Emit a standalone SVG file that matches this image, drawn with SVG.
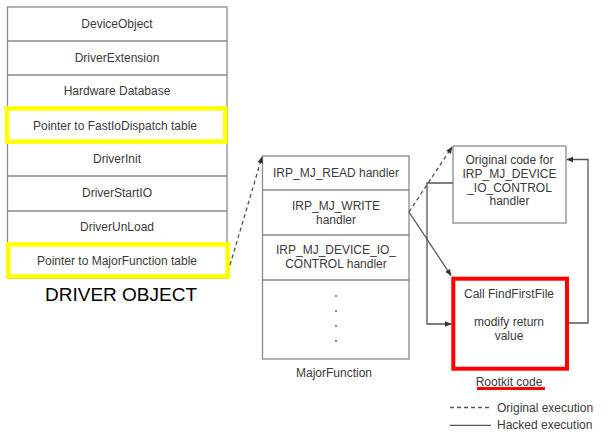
<svg xmlns="http://www.w3.org/2000/svg" width="614" height="444" viewBox="0 0 614 444">
<defs>
<style>
.t{font-family:"Liberation Sans",Arial,sans-serif;font-size:12px;fill:#3a3a3a;text-anchor:middle;dominant-baseline:central}
.box{fill:#fff;stroke:#8a8a8a;stroke-width:1.3}
.ln{fill:none;stroke:#8a8a8a;stroke-width:1.3}
.c{fill:none;stroke:#555;stroke-width:1.3}
.d{fill:none;stroke:#555;stroke-width:1.3;stroke-dasharray:4,3}
.yl{fill:none;stroke:#ffff00;stroke-width:4.5}
</style>
<marker id="ah" viewBox="0 0 10 10" refX="9" refY="5" markerWidth="7" markerHeight="7" markerUnits="userSpaceOnUse" orient="auto">
<path d="M0,1 L10,5 L0,9 z" fill="#333"/>
</marker>
</defs>
<rect width="614" height="444" fill="#fff"/>

<g id="driver-object">
<rect class="box" x="7.5" y="7" width="219.5" height="271"/>
<line class="ln" x1="7.5" y1="41" x2="227" y2="41"/>
<line class="ln" x1="7.5" y1="75" x2="227" y2="75"/>
<line class="ln" x1="7.5" y1="108" x2="227" y2="108"/>
<line class="ln" x1="7.5" y1="142" x2="227" y2="142"/>
<line class="ln" x1="7.5" y1="176" x2="227" y2="176"/>
<line class="ln" x1="7.5" y1="211" x2="227" y2="211"/>
<line class="ln" x1="7.5" y1="244" x2="227" y2="244"/>
<text class="t" x="117" y="24">DeviceObject</text>
<text class="t" x="117" y="58">DriverExtension</text>
<text class="t" x="117" y="91">Hardware Database</text>
<text class="t" x="115" y="125.5">Pointer to FastIoDispatch table</text>
<text class="t" x="117" y="159">DriverInit</text>
<text class="t" x="117" y="193">DriverStartIO</text>
<text class="t" x="117" y="227">DriverUnLoad</text>
<text class="t" x="117" y="260.5">Pointer to MajorFunction table</text>
<rect class="yl" x="7" y="108.4" width="218.3" height="33.2"/>
<rect class="yl" x="8.3" y="244.4" width="219.4" height="32"/>
<text x="121" y="301" font-family="'Liberation Sans',Arial,sans-serif" font-size="19" fill="#000" text-anchor="middle">DRIVER OBJECT</text>
</g>

<g id="major-function">
<rect class="box" x="262.5" y="156" width="146.5" height="203"/>
<line class="ln" x1="262.5" y1="190" x2="409" y2="190"/>
<line class="ln" x1="262.5" y1="235" x2="409" y2="235"/>
<line class="ln" x1="262.5" y1="280" x2="409" y2="280"/>
<text class="t" x="336" y="173">IRP_MJ_READ handler</text>
<text class="t" x="336" y="206">IRP_MJ_WRITE</text>
<text class="t" x="336" y="220">handler</text>
<text class="t" x="336" y="250">IRP_MJ_DEVICE_IO_</text>
<text class="t" x="336" y="264">CONTROL handler</text>
<circle cx="336" cy="296" r="0.9" fill="#555"/>
<circle cx="336" cy="311" r="0.9" fill="#555"/>
<circle cx="336" cy="326" r="0.9" fill="#555"/>
<circle cx="336" cy="341" r="0.9" fill="#555"/>
<text class="t" x="334" y="373">MajorFunction</text>
</g>

<g id="original-code">
<rect class="box" x="453" y="146" width="113" height="77"/>
<text class="t" x="509.5" y="160">Original code for</text>
<text class="t" x="509.5" y="173.5">IRP_MJ_DEVICE</text>
<text class="t" x="509.5" y="187.5">_IO_CONTROL</text>
<text class="t" x="509.5" y="201">handler</text>
</g>

<g id="rootkit-code">
<rect x="453.3" y="278.7" width="113.7" height="90" fill="#fff" stroke="#ff0000" stroke-width="4"/>
<text class="t" x="509" y="294">Call FindFirstFile</text>
<text class="t" x="509" y="322">modify return</text>
<text class="t" x="509" y="336">value</text>
<text class="t" x="509" y="382">Rootkit code</text>
<line x1="477" y1="388.5" x2="545" y2="388.5" stroke="#ff0000" stroke-width="3"/>
</g>

<g id="connectors">
<line class="d" x1="230" y1="265" x2="262" y2="157" marker-end="url(#ah)"/>
<line class="d" x1="409" y1="212" x2="452" y2="147" marker-end="url(#ah)"/>
<line class="c" x1="409" y1="212" x2="451" y2="275.5" marker-end="url(#ah)"/>
<polyline class="c" points="453,183 427,183 427,324 451,324" marker-end="url(#ah)"/>
<polyline class="c" points="569,323 588,323 588,159.5 567,159.5" marker-end="url(#ah)"/>
</g>

<g id="legend">
<line class="d" x1="450" y1="407.5" x2="491" y2="407.5"/>
<text class="t" x="497" y="407.5" style="text-anchor:start">Original execution</text>
<line class="c" x1="450" y1="425.3" x2="491" y2="425.3"/>
<text class="t" x="497" y="425.3" style="text-anchor:start">Hacked execution</text>
</g>
</svg>
